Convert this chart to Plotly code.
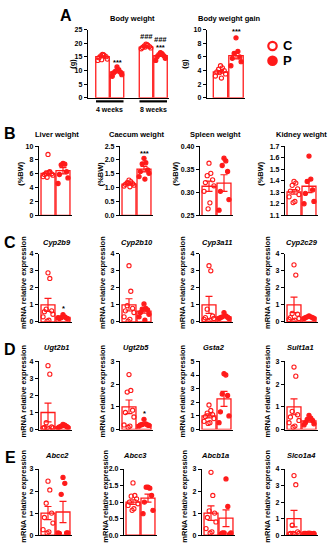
import plotly.graph_objects as go

W, H = 329, 550
RED = "#ff1a1a"
FONT = "Liberation Sans"

# ---------------- data ----------------
# Panel A: body weight (g)
bw_periods = ["4 weeks", "8 weeks"]
bw_c_4w = [15.9, 15.6, 15.4, 15.1, 14.7, 14.2, 13.7, 15.8, 14.0]
bw_p_4w = [11.3, 10.3, 9.7, 9.4, 9.1, 8.5, 7.9]
bw_c_8w = [19.7, 19.3, 19.0, 18.8, 18.5, 18.3, 18.0, 19.5, 18.6]
bw_p_8w = [16.6, 16.1, 15.8, 15.4, 15.1, 14.5, 13.7, 16.3]
bw_mean_c = [15.1, 18.6]
bw_mean_p = [9.5, 15.5]
bw_sem_c = [0.25, 0.2]
bw_sem_p = [0.4, 0.35]

# Panel A: body weight gain (g)
gain_c = [4.7, 4.4, 4.2, 4.0, 3.8, 3.5, 3.2, 2.9, 3.7]
gain_p = [8.8, 6.8, 6.5, 6.0, 5.8, 5.3, 4.7]
gain_mean = [3.8, 6.2]
gain_sem = [0.2, 0.5]

# Panel B: organ weights (%BW)
row_b_titles = ["Liver weight", "Caecum weight", "Spleen weight", "Kidney weight"]
liver_c = [8.8, 6.3, 6.1, 6.0, 5.9, 5.8, 5.6, 6.2, 5.5]
liver_p = [7.5, 7.4, 7.3, 6.3, 5.9, 5.4, 4.6]
caecum_c = [1.27, 1.22, 1.18, 1.14, 1.12, 1.09, 1.06, 1.03, 1.16]
caecum_p = [2.06, 1.9, 1.86, 1.64, 1.58, 1.52, 1.40, 1.31]
spleen_c = [0.363, 0.341, 0.336, 0.327, 0.321, 0.314, 0.302, 0.277, 0.264]
spleen_p = [0.374, 0.368, 0.358, 0.345, 0.302, 0.284, 0.261]
kidney_c = [1.394, 1.38, 1.36, 1.33, 1.31, 1.28, 1.26, 1.22, 1.21]
kidney_p = [1.614, 1.414, 1.394, 1.32, 1.29, 1.22, 1.20]
row_b_mean_c = [6.05, 1.13, 0.313, 1.303]
row_b_mean_p = [6.45, 1.67, 0.320, 1.352]
row_b_sem_c = [0.33, 0.03, 0.011, 0.02]
row_b_sem_p = [0.45, 0.10, 0.018, 0.055]

# Panel C: phase I enzymes (mRNA relative expression)
row_c_titles = ["Cyp2b9", "Cyp2b10", "Cyp3a11", "Cyp2c29"]
cyp2b9_c = [2.88, 2.55, 0.75, 0.65, 0.6, 0.45, 0.3, 0.1, 0.05]
cyp2b9_p = [0.42, 0.3, 0.25, 0.22, 0.2, 0.18, 0.25]
cyp2b10_c = [3.3, 1.8, 0.95, 0.8, 0.65, 0.55, 0.3, 0.15, 0.05]
cyp2b10_p = [1.05, 0.8, 0.75, 0.7, 0.55, 0.45, 0.3, 0.1]
cyp3a11_c = [3.3, 3.0, 0.75, 0.35, 0.25, 0.2, 0.15, 0.1, 0.05]
cyp3a11_p = [0.55, 0.35, 0.3, 0.28, 0.25, 0.2, 0.2]
cyp2c29_c = [3.35, 2.75, 0.5, 0.45, 0.25, 0.2, 0.15, 0.1, 0.05]
cyp2c29_p = [0.35, 0.3, 0.3, 0.25, 0.25, 0.2, 0.2]
row_c_mean_c = [1.0, 1.0, 1.0, 1.0]
row_c_mean_p = [0.26, 0.63, 0.30, 0.27]
row_c_sem_c = [0.38, 0.36, 0.5, 0.45]
row_c_sem_p = [0.03, 0.11, 0.04, 0.03]

# Panel D: phase II enzymes
row_d_titles = ["Ugt2b1", "Ugt2b5", "Gsta2", "Sult1a1"]
ugt2b1_c = [3.75, 3.25, 0.4, 0.15, 0.12, 0.1, 0.08, 0.05, 0.1]
ugt2b1_p = [0.3, 0.25, 0.2, 0.18, 0.15, 0.12, 0.1]
ugt2b5_c = [2.42, 1.72, 1.65, 0.85, 0.75, 0.55, 0.2, 0.15, 0.1]
ugt2b5_p = [0.45, 0.25, 0.22, 0.2, 0.2, 0.18, 0.15]
gsta2_c = [1.8, 1.4, 1.2, 1.1, 0.95, 0.8, 0.6, 0.5, 0.45]
gsta2_p = [4.1, 4.0, 2.6, 2.5, 1.3, 1.0, 0.5]
sult1a1_c = [2.75, 2.35, 0.8, 0.65, 0.55, 0.4, 0.3, 0.15, 0.1]
sult1a1_p = [0.62, 0.5, 0.45, 0.4, 0.3, 0.25, 0.2]
row_d_mean_c = [1.0, 1.0, 1.0, 1.0]
row_d_mean_p = [0.16, 0.21, 2.25, 0.38]
row_d_sem_c = [0.55, 0.3, 0.15, 0.35]
row_d_sem_p = [0.03, 0.04, 0.55, 0.06]

# Panel E: transporters
row_e_titles = ["Abcc2", "Abcc3", "Abcb1a", "Slco1a4"]
abcc2_c = [2.45, 2.05, 1.45, 1.0, 0.8, 0.55, 0.25, 0.15, 0.1]
abcc2_p = [2.62, 2.35, 1.85, 0.1, 0.08, 0.1, 0.1]
abcc3_c = [1.58, 1.2, 1.18, 1.1, 1.0, 0.95, 0.9, 0.8, 0.75]
abcc3_p = [1.45, 1.42, 1.45, 1.2, 1.0, 0.75, 0.65]
abcb1a_c = [2.85, 1.8, 1.1, 1.0, 0.8, 0.6, 0.3, 0.15, 0.1]
abcb1a_p = [2.55, 1.3, 0.1, 0.05, 0.1, 0.1, 0.05]
slco1a4_c = [3.6, 3.05, 0.6, 0.2, 0.1, 0.1, 0.05, 0.05, 0.1]
slco1a4_p = [0.12, 0.1, 0.1, 0.08, 0.1, 0.1, 0.1]
row_e_mean_c = [1.0, 1.0, 1.0, 1.0]
row_e_mean_p = [1.05, 1.12, 0.77, 0.1]
row_e_sem_c = [0.3, 0.07, 0.33, 0.5]
row_e_sem_p = [0.48, 0.12, 0.38, 0.01]

# significance labels: (panel, bar index, text, y value)
sig_marks = [
    ("bw", 1, "***", 12.8), ("bw", 2, "<i>###</i>", 22.6),
    ("bw", 3, "<i>###</i>", 21.4), ("bw", 3, "***", 18.4),
    ("gain", 1, "***", 9.7), ("Caecum weight", 1, "***", 2.22),
    ("Cyp2b9", 1, "*", 0.8), ("Ugt2b5", 1, "*", 0.72),
]

# ---------------- drawing ----------------
fig = go.Figure()
axes = {}
annotations = []
shapes = []
bar_traces, pt_traces, err_traces = [], [], []
panel_refs = {}
counter = [0]

JITTER = [0, 0.12, -0.12, 0.24, -0.24, 0.33, -0.33, 0.06, -0.06, 0.18, -0.18]


def new_axes(x0, x1, ytop, ybot, xrange, yrange, tickvals, ticktext):
    counter[0] += 1
    k = counter[0]
    sfx = "" if k == 1 else str(k)
    axes["xaxis" + sfx] = dict(
        domain=[x0 / W, x1 / W], range=xrange, anchor="y" + sfx,
        showline=True, linecolor="black", linewidth=1.4, showgrid=False,
        zeroline=False, showticklabels=False, ticks="", fixedrange=True)
    axes["yaxis" + sfx] = dict(
        domain=[1 - ybot / H, 1 - ytop / H], range=yrange, anchor="x" + sfx,
        showline=True, linecolor="black", linewidth=1.4, showgrid=False,
        zeroline=False, ticks="outside", ticklen=3, tickwidth=1.2,
        tickcolor="black", tickvals=tickvals, ticktext=ticktext,
        tickfont=dict(family=FONT, size=7, color="black", weight="bold"),
        fixedrange=True)
    return "x" + sfx, "y" + sfx


def draw_group(xr, yr, x, pts, mean, sem, filled):
    bar_traces.append(go.Bar(
        x=[x], y=[mean], width=0.93, xaxis=xr, yaxis=yr,
        marker=dict(color="white", line=dict(color=RED, width=1.3)),
        showlegend=False, hoverinfo="skip"))
    xs = [x + JITTER[i % len(JITTER)] for i in range(len(pts))]
    pt_traces.append(go.Scatter(
        x=xs, y=pts, mode="markers", xaxis=xr, yaxis=yr,
        marker=dict(symbol="circle" if filled else "circle-open", size=4.2,
                    color=RED, line=dict(color=RED, width=1.1)),
        showlegend=False, hoverinfo="skip"))
    err_traces.append(go.Scatter(
        x=[x], y=[mean], mode="markers", xaxis=xr, yaxis=yr,
        marker=dict(size=1, color="rgba(0,0,0,0)"),
        error_y=dict(type="data", array=[sem], visible=True, color=RED,
                     thickness=1.2, width=3.5),
        showlegend=False, hoverinfo="skip"))


def text(t, xpx, ypx, size, angle=0, xanchor="center"):
    annotations.append(dict(
        text=t, xref="paper", yref="paper", x=xpx / W, y=1 - ypx / H,
        xanchor=xanchor, yanchor="middle", showarrow=False, textangle=angle,
        font=dict(family=FONT, size=size, color="black")))


# ---- Panel A: body weight ----
xr, yr = new_axes(88, 169, 26, 95, [-1.0, 4.586], [0, 25],
                  [0, 5, 10, 15, 20, 25], ["0", "5", "10", "15", "20", "25"])
panel_refs["bw"] = (xr, yr, [0, 1, 3, 4])
draw_group(xr, yr, 0, bw_c_4w, bw_mean_c[0], bw_sem_c[0], False)
draw_group(xr, yr, 1, bw_p_4w, bw_mean_p[0], bw_sem_p[0], True)
draw_group(xr, yr, 3, bw_c_8w, bw_mean_c[1], bw_sem_c[1], False)
draw_group(xr, yr, 4, bw_p_8w, bw_mean_p[1], bw_sem_p[1], True)
for gi, lab in enumerate(bw_periods):
    c0 = gi * 3
    shapes.append(dict(type="line", xref=xr, yref="paper",
                       x0=c0 - 0.45, x1=c0 + 1.45, y0=1 - 98.6 / H, y1=1 - 98.6 / H,
                       line=dict(color="black", width=2.2)))
    annotations.append(dict(text="<b>%s</b>" % lab, xref=xr, yref="paper",
                            x=c0 + 0.5, y=1 - 106.8 / H, showarrow=False,
                            xanchor="center", yanchor="middle",
                            font=dict(family=FONT, size=7, color="black")))
text("<b>Body weight</b>", 132, 14.5, 7.5)
text("<b>(g)</b>", 73, 60.5, 7.5, -90)

# ---- Panel A: body weight gain ----
xr, yr = new_axes(207, 245, 26, 95, [-0.871, 1.58], [0, 10],
                  [0, 2, 4, 6, 8, 10], ["0", "2", "4", "6", "8", "10"])
panel_refs["gain"] = (xr, yr, [0, 1])
draw_group(xr, yr, 0, gain_c, gain_mean[0], gain_sem[0], False)
draw_group(xr, yr, 1, gain_p, gain_mean[1], gain_sem[1], True)
text("<b>Body weight gain</b>", 229.5, 14.5, 7.5)
text("<b>(g)</b>", 185, 60.5, 7.5, -90)

text("<b>A</b>", 66, 12, 16)

# legend
for (cy, filled, lab) in [(42.5, False, "C"), (57.5, True, "P")]:
    r = 4.2
    shapes.append(dict(type="circle", xref="paper", yref="paper",
                       x0=(272.5 - r) / W, x1=(272.5 + r) / W,
                       y0=1 - (cy + r) / H, y1=1 - (cy - r) / H,
                       fillcolor=RED if filled else "white",
                       line=dict(color=RED, width=2.2)))
    text("<b>%s</b>" % lab, 281, cy, 13, xanchor="left")


def tick_set(lo, hi, step, fmt):
    n = int(round((hi - lo) / step))
    vals = [lo + i * step for i in range(n + 1)]
    return vals, [fmt.format(v) for v in vals]


# ---- rows B to E ----
rows = [
    dict(letter="B", ytop=144, ybot=214, title_y=132.5, letter_y=131,
         titles=row_b_titles, ylabel="(%BW)", ylabel_size=7.5,
         axes_x=[39, 120, 200, 285], label_x=[21, 100.5, 176, 261], label_y=172,
         data=[(liver_c, liver_p), (caecum_c, caecum_p), (spleen_c, spleen_p), (kidney_c, kidney_p)],
         mc=row_b_mean_c, mp=row_b_mean_p, sc=row_b_sem_c, sp=row_b_sem_p,
         ticks=[(0, 10, 2, "{:.0f}"), (0, 2.5, 0.5, "{:.1f}"), (0.25, 0.40, 0.05, "{:.2f}"), (1.1, 1.7, 0.1, "{:.1f}")],
         title_x=[56.5, 137, 215, 301.5], italic=False),
    dict(letter="C", ytop=253, ybot=322, title_y=241.7, letter_y=242,
         titles=row_c_titles, ylabel="mRNA relative expression", ylabel_size=7.5,
         axes_x=[39, 120, 200, 285], label_x=[23.5, 102.5, 182.5, 267.5], label_y=282,
         data=[(cyp2b9_c, cyp2b9_p), (cyp2b10_c, cyp2b10_p), (cyp3a11_c, cyp3a11_p), (cyp2c29_c, cyp2c29_p)],
         mc=row_c_mean_c, mp=row_c_mean_p, sc=row_c_sem_c, sp=row_c_sem_p,
         ticks=[(0, 4, 1, "{:.0f}")] * 4,
         title_x=[56.7, 137, 216.7, 301.7], italic=True),
    dict(letter="D", ytop=362, ybot=431, title_y=348.3, letter_y=350,
         titles=row_d_titles, ylabel="mRNA relative expression", ylabel_size=7.5,
         axes_x=[39, 120, 200, 285], label_x=[23.5, 102.5, 182.5, 267.5], label_y=392,
         data=[(ugt2b1_c, ugt2b1_p), (ugt2b5_c, ugt2b5_p), (gsta2_c, gsta2_p), (sult1a1_c, sult1a1_p)],
         mc=row_d_mean_c, mp=row_d_mean_p, sc=row_d_sem_c, sp=row_d_sem_p,
         ticks=[(0, 4, 1, "{:.0f}"), (0, 3, 1, "{:.0f}"), (0, 5, 1, "{:.0f}"), (0, 3, 1, "{:.0f}")],
         title_x=[56, 136, 214, 300], italic=True),
    dict(letter="E", ytop=471, ybot=538, title_y=457.3, letter_y=459,
         titles=row_e_titles, ylabel="mRNA relative expression", ylabel_size=7.5,
         axes_x=[39, 124, 202, 285], label_x=[24, 106, 185, 268], label_y=499,
         data=[(abcc2_c, abcc2_p), (abcc3_c, abcc3_p), (abcb1a_c, abcb1a_p), (slco1a4_c, slco1a4_p)],
         mc=row_e_mean_c, mp=row_e_mean_p, sc=row_e_sem_c, sp=row_e_sem_p,
         ticks=[(0, 3, 1, "{:.0f}"), (0, 2.0, 0.5, "{:.1f}"), (0, 3, 1, "{:.0f}"), (0, 4, 1, "{:.0f}")],
         title_x=[57, 135, 215, 301], italic=True),
]

for row in rows:
    text("<b>%s</b>" % row["letter"], 10, row["letter_y"], 16)
    for j in range(4):
        lo, hi, step, fmt = row["ticks"][j]
        tv, tt = tick_set(lo, hi, step, fmt)
        ax0 = row["axes_x"][j]
        xr, yr = new_axes(ax0, ax0 + 33, row["ytop"], row["ybot"],
                          [-0.6, 1.6], [lo, hi], tv, tt)
        panel_refs[row["titles"][j]] = (xr, yr, [0, 1])
        pc, pp = row["data"][j]
        draw_group(xr, yr, 0, pc, row["mc"][j], row["sc"][j], False)
        draw_group(xr, yr, 1, pp, row["mp"][j], row["sp"][j], True)
        t = row["titles"][j]
        t = "<b><i>%s</i></b>" % t if row["italic"] else "<b>%s</b>" % t
        text(t, row["title_x"][j], row["title_y"], 7.5)
        text("<b>%s</b>" % row["ylabel"], row["label_x"][j], row["label_y"],
             row["ylabel_size"], -90)

for key, idx, label, yv in sig_marks:
    xr, yr, xpos = panel_refs[key]
    annotations.append(dict(text="<b>%s</b>" % label, xref=xr, yref=yr,
                            x=xpos[idx], y=yv, showarrow=False,
                            xanchor="center", yanchor="middle",
                            font=dict(family=FONT, size=7.5, color="black")))

for tr in bar_traces + pt_traces + err_traces:
    fig.add_trace(tr)

fig.update_layout(
    width=W, height=H, margin=dict(l=0, r=0, t=0, b=0),
    paper_bgcolor="white", plot_bgcolor="white", barmode="overlay",
    showlegend=False, annotations=annotations, shapes=shapes,
    font=dict(family=FONT, color="black"), **axes)

fig.write_html("out.html", config={"displayModeBar": False},
               post_script="document.body.style.margin='0';document.body.style.padding='0';")
